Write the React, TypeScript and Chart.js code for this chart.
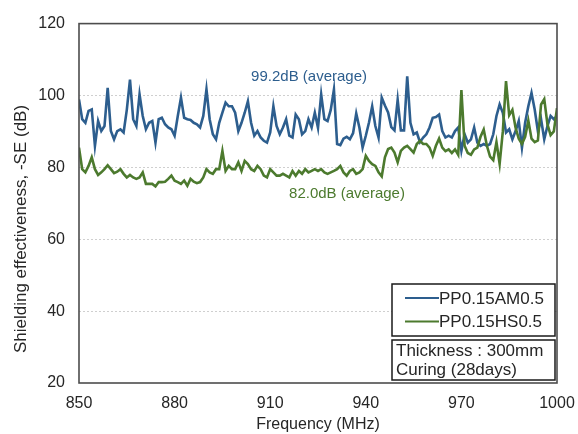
import React, { useEffect, useRef } from "react";
import { Chart, registerables } from "chart.js";

Chart.register(...registerables);

// ---- data ----
const freqStart = 850; // MHz, 1 MHz step
const xTickValues = [850, 880, 910, 940, 970, 1000];
const yTickValues = [20, 40, 60, 80, 100, 120];
const seriesNames = ["PP0.15AM0.5", "PP0.15HS0.5"];
const averageLabels = ["99.2dB (average)", "82.0dB (average)"];
const noteLines = ["Thickness : 300mm", "Curing (28days)"];
const xTitle = "Frequency (MHz)";
const yTitle = "Shielding effectiveness, -SE (dB)";

const am05 = [
  98.9, 93.4, 92.4, 95.7, 96.1, 86.0, 92.9, 90.1, 91.5, 102.1,
  90.1, 87.8, 90.1, 90.6, 89.7, 96.0, 104.4, 93.4, 91.5, 100.3,
  94.3, 90.6, 92.4, 92.9, 86.9, 93.4, 93.8, 92.0, 91.1, 90.6,
  88.8, 94.3, 99.4, 93.8, 93.4, 93.2, 92.4, 92.0, 91.1, 94.3,
  101.7, 93.4, 89.2, 87.8, 92.4, 95.2, 98.0, 97.0, 97.0, 95.2,
  90.1, 92.4, 95.2, 98.4, 92.4, 88.8, 90.1, 88.3, 87.4, 86.9,
  89.7, 97.0, 91.5, 89.2, 91.1, 93.4, 88.8, 88.3, 94.7, 93.4,
  89.2, 90.1, 93.4, 91.1, 95.2, 91.0, 100.3, 93.4, 92.9, 96.0,
  101.7, 86.5, 86.2, 88.0, 88.5, 87.8, 89.5, 95.0, 91.0, 85.5,
  88.8, 92.5, 97.0, 91.5, 88.3, 99.4, 97.2, 95.3, 91.2, 90.3,
  98.8, 90.3, 90.3, 105.3, 92.4, 89.2, 89.7, 87.0, 88.3, 89.2,
  91.1, 93.8, 94.0, 94.7, 90.1, 88.3, 88.8, 88.3, 90.1, 91.1,
  84.6, 89.2, 86.9, 87.8, 91.1, 86.9, 86.0, 86.5, 86.0, 86.5,
  89.2, 94.3, 97.5, 95.2, 89.7, 90.6, 87.8, 90.1, 92.9, 85.5,
  92.4, 97.0, 100.7, 96.1, 90.1, 93.4, 87.8, 91.5, 94.3, 93.4,
  94.3,
];

const hs05 = [
  85.5, 79.5, 78.6, 80.4, 82.8, 79.5, 77.9, 78.6, 79.5, 80.6,
  79.5, 78.4, 78.8, 79.5, 78.2, 77.2, 77.9, 77.2, 76.8, 77.2,
  78.6, 75.4, 75.4, 75.4, 74.7, 75.9, 75.9, 76.0, 76.8, 77.7,
  76.3, 75.9, 75.4, 76.3, 74.9, 76.8, 76.0, 75.6, 75.9, 77.2,
  79.5, 78.6, 78.2, 79.5, 79.5, 84.6, 79.0, 80.4, 79.5, 79.5,
  81.4, 79.0, 81.8, 80.9, 79.5, 79.0, 80.4, 79.5, 77.7, 77.2,
  79.5, 78.6, 77.7, 77.7, 78.2, 77.7, 77.2, 79.0, 77.7, 79.0,
  78.2, 79.5, 78.6, 79.0, 79.5, 79.0, 79.5, 78.6, 78.2, 78.6,
  79.0, 79.5, 80.4, 78.6, 77.7, 79.0, 79.5, 78.2, 78.6, 79.5,
  83.2, 81.8, 80.9, 80.4, 78.6, 77.5, 82.8, 85.1, 85.5, 84.1,
  81.4, 84.6, 85.5, 86.0, 85.1, 84.1, 86.5, 87.4, 86.5, 86.5,
  85.5, 83.2, 86.0, 88.0, 85.5, 84.5, 85.0, 84.0, 85.0, 83.5,
  101.5, 86.0, 84.0, 83.5, 85.0, 85.5, 88.5, 90.5, 86.0, 83.0,
  82.0, 87.0, 81.0, 90.0, 104.0, 94.5, 96.0, 91.0, 88.0, 86.5,
  88.5, 93.0, 88.0, 87.0, 87.5, 97.5, 99.0, 92.0, 89.0, 90.0,
  96.5,
];

// annotation anchors in data units
const avgLabelPos = [
  { x: 922.2, y: 105.3 },
  { x: 934.1, y: 72.6 },
];

const BLUE = "#2d5e8e";
const GREEN = "#4c7a2e";
const TEXT = "#262626";
const FONT = "'Liberation Sans', Arial, Helvetica, sans-serif";

const toPoints = (vals: number[]) =>
  vals.map((v, i) => ({ x: freqStart + i, y: v }));

const overlayPlugin = {
  id: "overlay",
  afterDraw(chart: any) {
    const { ctx, chartArea, scales } = chart;
    ctx.save();
    // plot frame
    ctx.strokeStyle = "#4d4d4d";
    ctx.lineWidth = 1.6;
    ctx.strokeRect(
      chartArea.left,
      chartArea.top,
      chartArea.right - chartArea.left,
      chartArea.bottom - chartArea.top
    );

    // average annotations
    ctx.font = `15px ${FONT}`;
    ctx.textAlign = "center";
    ctx.textBaseline = "middle";
    [BLUE, GREEN].forEach((c, i) => {
      ctx.fillStyle = c;
      ctx.fillText(
        averageLabels[i],
        scales.x.getPixelForValue(avgLabelPos[i].x),
        scales.y.getPixelForValue(avgLabelPos[i].y)
      );
    });

    // y title
    ctx.save();
    ctx.translate(21, 229);
    ctx.rotate(-Math.PI / 2);
    ctx.fillStyle = TEXT;
    ctx.font = `17px ${FONT}`;
    ctx.fillText(yTitle, 0, 0);
    ctx.restore();

    // legend box
    const lx = 392;
    const lr = chartArea.right - 2;
    ctx.strokeStyle = "#1a1a1a";
    ctx.lineWidth = 1.5;
    ctx.fillStyle = "#ffffff";
    ctx.fillRect(lx, 284, lr - lx, 52);
    ctx.strokeRect(lx, 284, lr - lx, 52);
    ctx.font = `17px ${FONT}`;
    ctx.textAlign = "left";
    [BLUE, GREEN].forEach((c, i) => {
      const yy = 298 + i * 23.5;
      ctx.strokeStyle = c;
      ctx.lineWidth = 2;
      ctx.beginPath();
      ctx.moveTo(405, yy);
      ctx.lineTo(439, yy);
      ctx.stroke();
      ctx.fillStyle = TEXT;
      ctx.fillText(seriesNames[i], 439, yy + 1);
    });

    // note box
    ctx.strokeStyle = "#1a1a1a";
    ctx.lineWidth = 1.5;
    ctx.fillStyle = "#ffffff";
    ctx.fillRect(lx, 340, lr - lx, 40);
    ctx.strokeRect(lx, 340, lr - lx, 40);
    ctx.fillStyle = TEXT;
    noteLines.forEach((t, i) => {
      ctx.fillText(t, 396, 351 + i * 19);
    });
    ctx.restore();
  },
};

export default function App() {
  const ref = useRef<HTMLCanvasElement | null>(null);

  useEffect(() => {
    if (!ref.current) return;
    const chart = new Chart(ref.current, {
      type: "line",
      data: {
        datasets: [
          {
            label: seriesNames[0],
            data: toPoints(am05),
            borderColor: BLUE,
            borderWidth: 2.6,
            pointRadius: 0,
            tension: 0,
            order: 2,
          },
          {
            label: seriesNames[1],
            data: toPoints(hs05),
            borderColor: GREEN,
            borderWidth: 2.6,
            pointRadius: 0,
            tension: 0,
            order: 1,
          },
        ],
      },
      options: {
        responsive: false,
        animation: false,
        layout: { padding: { left: 0, right: 21, top: 22, bottom: 0 } },
        plugins: {
          legend: { display: false },
          tooltip: { enabled: false },
        },
        scales: {
          x: {
            type: "linear",
            min: 850,
            max: 1000,
            afterBuildTicks: (s: any) => {
              s.ticks = xTickValues.map((v) => ({ value: v }));
            },
            afterFit: (s: any) => {
              s.height = 51;
              s.paddingLeft = 0;
              s.paddingRight = 0;
            },
            ticks: {
              font: { family: FONT, size: 16 },
              color: TEXT,
              padding: 11,
              maxRotation: 0,
              callback: (v: any) => String(v),
            },
            grid: { display: false, drawTicks: false },
            border: { display: false },
            title: {
              display: true,
              text: xTitle,
              font: { family: FONT, size: 16 },
              color: TEXT,
              padding: { top: 0, bottom: 0 },
            },
          },
          y: {
            min: 20,
            max: 120,
            afterBuildTicks: (s: any) => {
              s.ticks = yTickValues.map((v) => ({ value: v }));
            },
            afterFit: (s: any) => {
              s.width = 79;
            },
            ticks: {
              font: { family: FONT, size: 16 },
              color: TEXT,
              padding: 14,
              callback: (v: any) => String(v),
            },
            grid: {
              drawTicks: false,
              lineWidth: 1,
              color: (c: any) =>
                c.tick && (c.tick.value === 20 || c.tick.value === 120)
                  ? "rgba(0,0,0,0)"
                  : "#cfcfcf",
            },
            border: { display: false, dash: [2, 2] },
          },
        },
      },
      plugins: [overlayPlugin],
    });
    return () => chart.destroy();
  }, []);

  return (
    <div style={{ position: "absolute", left: 0, top: 0, width: 578, height: 434, background: "#fff" }}>
      <canvas ref={ref} width={578} height={434} style={{ display: "block" }} />
    </div>
  );
}
